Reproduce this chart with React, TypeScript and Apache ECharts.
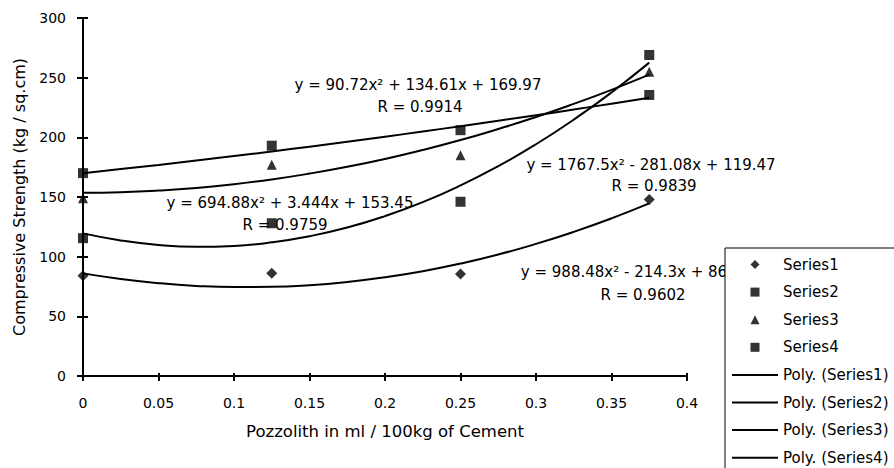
import React, { useEffect, useRef } from "react";
import * as echarts from "echarts";

const xValues = [0, 0.125, 0.25, 0.375];
const series1 = [84, 86, 85.5, 148];
const series2 = [115.5, 128, 146, 269];
const series3 = [149, 177, 185, 255];
const series4 = [170, 193, 206, 235.5];

const trendX = [0, 0.025, 0.05, 0.075, 0.1, 0.125, 0.15, 0.175, 0.2, 0.225, 0.25, 0.275, 0.3, 0.325, 0.35, 0.375];
const trend1 = [86.0, 81.3, 77.8, 75.5, 74.5, 74.7, 76.1, 78.8, 82.7, 87.8, 94.2, 101.8, 110.7, 120.8, 132.1, 144.6];
const trend2 = [119.5, 113.6, 109.8, 108.3, 109.0, 112.0, 117.1, 124.4, 134.0, 145.7, 159.7, 175.8, 194.2, 214.8, 237.6, 262.6];
const trend3 = [153.5, 154.0, 155.4, 157.6, 160.7, 164.7, 169.6, 175.3, 181.9, 189.4, 197.7, 207.0, 217.0, 228.0, 239.8, 252.5];
const trend4 = [170.0, 173.4, 176.9, 180.6, 184.3, 188.2, 192.2, 196.3, 200.5, 204.9, 209.3, 213.9, 218.5, 223.3, 228.2, 233.2];

const seriesNames = ["Series1", "Series2", "Series3", "Series4"];
const trendNames = ["Poly. (Series1)", "Poly. (Series2)", "Poly. (Series3)", "Poly. (Series4)"];
const symbols = ["diamond", "rect", "triangle", "rect"];
const symbolSizes = [11, 10, 10, 10];
const legendIcons = [
  "path://M5 0L10 5L5 10L0 5Z",
  "path://M0 0H10V10H0Z",
  "path://M5 0L10 10H0Z",
  "path://M0 0H10V10H0Z",
];
const lineIcon = "path://M0 0H46V2H0Z";

const xTitle = "Pozzolith in ml / 100kg of Cement";
const yTitle = "Compressive Strength (kg / sq.cm)";

const equations = [
  { eq: "y = 988.48x² - 214.3x + 86", r: "R = 0.9602", ex: 624, ey: 272, rx: 643, ry: 295 },
  { eq: "y = 1767.5x² - 281.08x + 119.47", r: "R = 0.9839", ex: 651, ey: 165, rx: 654, ry: 186 },
  { eq: "y = 694.88x² + 3.444x + 153.45", r: "R = 0.9759", ex: 290, ey: 203, rx: 285, ry: 225 },
  { eq: "y = 90.72x² + 134.61x + 169.97", r: "R = 0.9914", ex: 418, ey: 85, rx: 420, ry: 107 },
];

const FONT = "DejaVu Sans";

export default function App() {
  const ref = useRef<HTMLDivElement>(null);
  useEffect(() => {
    const chart = echarts.init(ref.current!, null, { renderer: "svg" });
    const pts = [series1, series2, series3, series4];
    const trends = [trend1, trend2, trend3, trend4];
    const scatterSeries = pts.map((vals, i) => ({
      name: seriesNames[i],
      type: "scatter",
      symbol: symbols[i],
      symbolSize: symbolSizes[i],
      itemStyle: { color: "#000" },
      z: 5,
      data: xValues.map((x, j) => [x, vals[j]]),
    }));
    const lineSeries = trends.map((vals, i) => ({
      name: trendNames[i],
      type: "line",
      smooth: true,
      symbol: "none",
      showSymbol: false,
      lineStyle: { color: "#000", width: 2 },
      itemStyle: { color: "#000" },
      z: 3,
      data: trendX.map((x, j) => [x, vals[j]]),
    }));
    const textEls: any[] = [];
    equations.forEach((e) => {
      textEls.push({
        type: "text",
        x: e.ex,
        y: e.ey,
        style: { text: e.eq, font: `15px "${FONT}"`, fill: "#000", textAlign: "center", textVerticalAlign: "middle" },
        z: 1,
      });
      textEls.push({
        type: "text",
        x: e.rx,
        y: e.ry,
        style: { text: e.r, font: `15px "${FONT}"`, fill: "#000", textAlign: "center", textVerticalAlign: "middle" },
        z: 1,
      });
    });
    const legendData = [
      ...seriesNames.map((n, i) => ({ name: n, icon: legendIcons[i] })),
      ...trendNames.map((n) => ({ name: n, icon: lineIcon })),
    ];
    const option: any = {
      animation: false,
      backgroundColor: "#fff",
      textStyle: { fontFamily: FONT, color: "#000" },
      grid: { left: 83, right: 207, top: 18, bottom: 92, containLabel: false },
      xAxis: [
        {
          type: "value",
          min: 0,
          max: 0.4,
          interval: 0.05,
          position: "bottom",
          name: xTitle,
          nameLocation: "middle",
          nameGap: 47,
          nameTextStyle: { fontSize: 16.5, color: "#000", fontFamily: FONT },
          axisLine: { show: true, onZero: false, lineStyle: { color: "#000", width: 2 } },
          axisTick: { show: true, inside: false, length: 5, lineStyle: { color: "#000", width: 2 } },
          axisLabel: { fontSize: 14, color: "#000", margin: 20, fontFamily: FONT },
          splitLine: { show: false },
        },
        {
          type: "value",
          min: 0,
          max: 0.4,
          interval: 0.05,
          position: "bottom",
          axisLine: { show: false },
          axisTick: { show: true, inside: true, length: 3, lineStyle: { color: "#000", width: 2 } },
          axisLabel: { show: false },
          splitLine: { show: false },
        },
      ],
      yAxis: [
        {
          type: "value",
          min: 0,
          max: 300,
          interval: 50,
          position: "left",
          name: yTitle,
          nameLocation: "middle",
          nameGap: 56,
          nameTextStyle: { fontSize: 16, color: "#000", fontFamily: FONT },
          axisLine: { show: true, onZero: false, lineStyle: { color: "#000", width: 2 } },
          axisTick: { show: true, inside: false, length: 6, lineStyle: { color: "#000", width: 2 } },
          axisLabel: { fontSize: 14, color: "#000", margin: 17, fontFamily: FONT },
          splitLine: { show: false },
        },
        {
          type: "value",
          min: 0,
          max: 300,
          interval: 50,
          position: "left",
          axisLine: { show: false },
          axisTick: { show: true, inside: true, length: 5, lineStyle: { color: "#000", width: 2 } },
          axisLabel: { show: false },
          splitLine: { show: false },
        },
      ],
      legend: {
        orient: "vertical",
        left: 725,
        top: 248,
        height: 260,
        padding: [9, 30, 9, 7],
        itemWidth: 46,
        itemHeight: 9,
        itemGap: 12.6,
        borderColor: "#000",
        borderWidth: 1,
        backgroundColor: "#fff",
        z: 10,
        itemStyle: { color: "#000" },
        textStyle: { fontSize: 15, color: "#000", lineHeight: 15, fontFamily: FONT },
        data: legendData,
      },
      graphic: textEls,
      series: [...lineSeries, ...scatterSeries],
    };
    chart.setOption(option);
    return () => chart.dispose();
  }, []);
  return (
    <div
      ref={ref}
      style={{ position: "fixed", left: 0, top: 0, width: 894, height: 468, background: "#fff" }}
    />
  );
}
